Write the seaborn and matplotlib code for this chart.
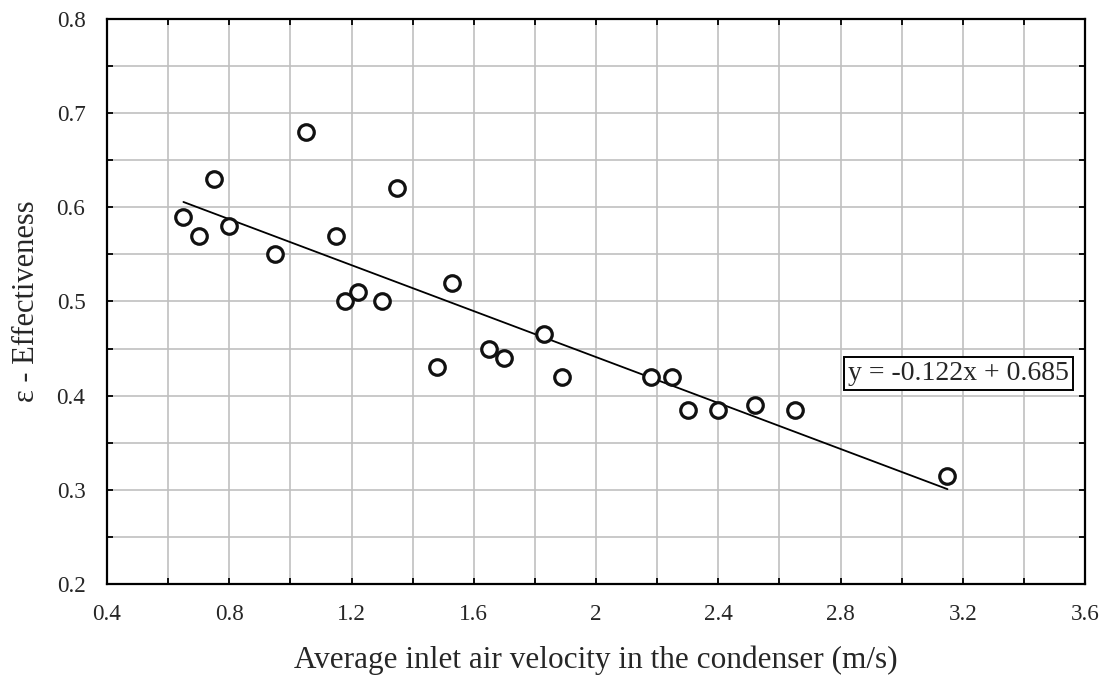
import matplotlib
matplotlib.use("Agg")
import matplotlib.pyplot as plt
import seaborn as sns
import numpy as np
import pandas as pd
from matplotlib.ticker import MultipleLocator, FormatStrFormatter, FuncFormatter

# ---- data ----
velocity = [0.65, 0.70, 0.75, 0.80, 0.95, 1.05, 1.15, 1.18, 1.22, 1.30, 1.35, 1.48,
            1.53, 1.65, 1.70, 1.83, 1.89, 2.18, 2.25, 2.30, 2.40, 2.52, 2.65, 3.15]
effectiveness = [0.59, 0.57, 0.63, 0.58, 0.55, 0.68, 0.57, 0.50, 0.51, 0.50, 0.62, 0.43,
                 0.52, 0.45, 0.44, 0.465, 0.42, 0.42, 0.42, 0.385, 0.385, 0.39, 0.385, 0.315]
fit_slope = -0.122
fit_intercept = 0.685
equation_label = "y = -0.122x + 0.685"
x_label = "Average inlet air velocity in the condenser (m/s)"
y_label = "\u03b5 - Effectiveness"

df = pd.DataFrame({"v": velocity, "e": effectiveness})
fit_x = [min(velocity), max(velocity)]
fit_df = pd.DataFrame({"v": fit_x, "e": [fit_slope * x + fit_intercept for x in fit_x]})

sns.set_theme(style="white")
plt.rcParams["font.family"] = ["Liberation Serif", "DejaVu Serif"]

fig = plt.figure(figsize=(11.1, 6.86), dpi=100)
ax = fig.add_axes([0.0964, 0.1487, 0.9775 - 0.0964, 0.9723 - 0.1487])

sns.lineplot(data=fit_df, x="v", y="e", ax=ax, color="black", linewidth=1.3, zorder=3)
sns.scatterplot(data=df, x="v", y="e", ax=ax, s=125, color="white",
                edgecolor="#111111", linewidth=2.3, zorder=4)

ax.set_xlim(0.4, 3.6)
ax.set_ylim(0.2, 0.8)
ax.xaxis.set_major_locator(MultipleLocator(0.4))
ax.xaxis.set_minor_locator(MultipleLocator(0.2))
ax.yaxis.set_major_locator(MultipleLocator(0.1))
ax.yaxis.set_minor_locator(MultipleLocator(0.05))
ax.xaxis.set_major_formatter(FuncFormatter(lambda v, p: f"{v:g}"))
ax.yaxis.set_major_formatter(FormatStrFormatter("%.1f"))

ax.grid(True, which="both", color="#c0c0c0", linewidth=1.2)
ax.set_axisbelow(True)

for sp in ax.spines.values():
    sp.set_color("black")
    sp.set_linewidth(1.6)

ax.tick_params(which="both", direction="in", length=4, width=1.3, color="black",
               top=True, right=True, bottom=True, left=True)
ax.tick_params(axis="x", which="major", labelsize=16.7, pad=14.5)
ax.tick_params(axis="y", which="major", labelsize=16.7, pad=15.5)

ax.set_xlabel(x_label, fontsize=22.5, labelpad=15)
ax.set_ylabel(y_label, fontsize=22, labelpad=11)

ax.text(3.185, 0.4237, equation_label, fontsize=20, ha="center", va="center",
        bbox=dict(boxstyle="square,pad=0.15", facecolor="white", edgecolor="black",
                  linewidth=1.4), zorder=5)

fig.savefig("out.png", dpi=100)
